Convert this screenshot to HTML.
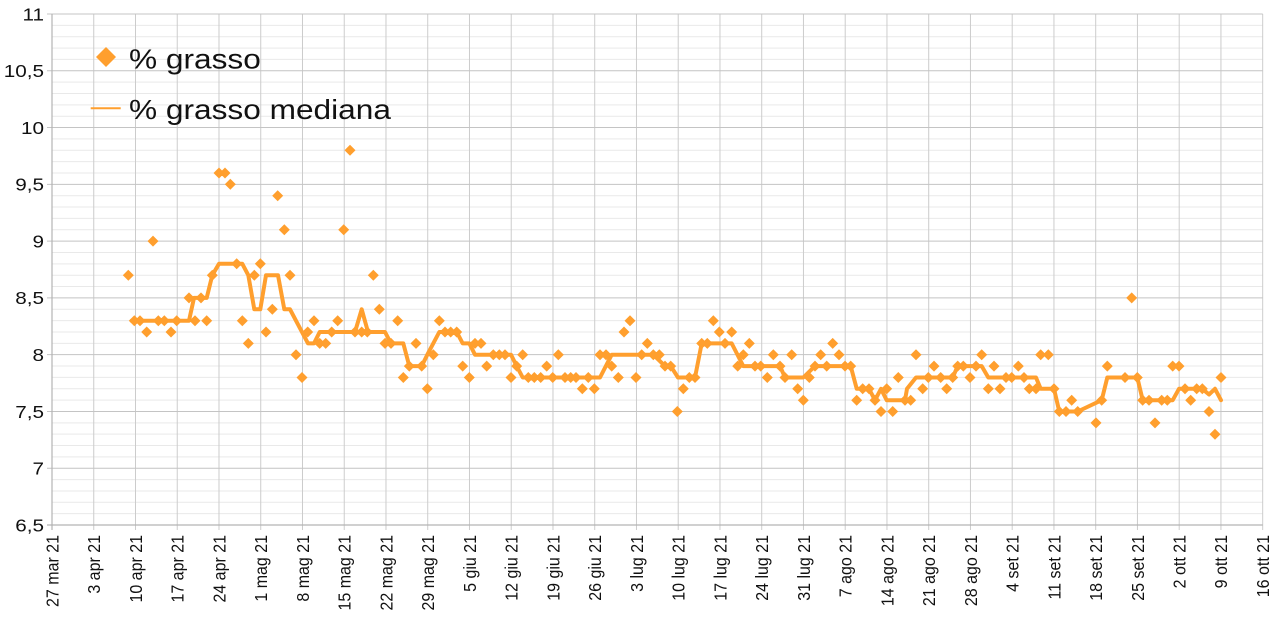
<!DOCTYPE html>
<html><head><meta charset="utf-8"><style>
html,body{margin:0;padding:0;background:#fff;}
svg{display:block;}
text{font-family:"Liberation Sans",Arial,sans-serif;fill:#111;}
</style></head><body>
<svg width="1279" height="622" viewBox="0 0 1279 622" xmlns="http://www.w3.org/2000/svg">
<rect width="1279" height="622" fill="#fff"/>
<!-- minor horizontal grid -->
<path fill="none" stroke="#e9e9e9" stroke-width="1" d="M52 25.36H1262.7M52 36.71H1262.7M52 48.07H1262.7M52 59.42H1262.7M52 82.14H1262.7M52 93.49H1262.7M52 104.85H1262.7M52 116.2H1262.7M52 138.92H1262.7M52 150.27H1262.7M52 161.63H1262.7M52 172.98H1262.7M52 195.7H1262.7M52 207.05H1262.7M52 218.41H1262.7M52 229.76H1262.7M52 252.48H1262.7M52 263.83H1262.7M52 275.19H1262.7M52 286.54H1262.7M52 309.26H1262.7M52 320.61H1262.7M52 331.97H1262.7M52 343.32H1262.7M52 366.04H1262.7M52 377.39H1262.7M52 388.75H1262.7M52 400.1H1262.7M52 422.82H1262.7M52 434.17H1262.7M52 445.53H1262.7M52 456.88H1262.7M52 479.6H1262.7M52 490.95H1262.7M52 502.31H1262.7M52 513.66H1262.7"/>
<!-- vertical grid -->
<path fill="none" stroke="#cccccc" stroke-width="1" d="M93.75 14V530M135.5 14V530M177.24 14V530M218.99 14V530M260.74 14V530M302.49 14V530M344.24 14V530M385.98 14V530M427.73 14V530M469.48 14V530M511.23 14V530M552.98 14V530M594.72 14V530M636.47 14V530M678.22 14V530M719.97 14V530M761.72 14V530M803.46 14V530M845.21 14V530M886.96 14V530M928.71 14V530M970.46 14V530M1012.2 14V530M1053.95 14V530M1095.7 14V530M1137.45 14V530M1179.2 14V530M1220.94 14V530M1262.69 14V530"/>
<!-- major horizontal grid -->
<path fill="none" stroke="#c4c4c4" stroke-width="1" d="M47 14H1262.7M47 70.78H1262.7M47 127.56H1262.7M47 184.34H1262.7M47 241.12H1262.7M47 297.9H1262.7M47 354.68H1262.7M47 411.46H1262.7M47 468.24H1262.7"/>
<!-- axes -->
<path fill="none" stroke="#b3b3b3" stroke-width="1.2" d="M52 14V530M47 525H1262.7"/>

<!-- y labels -->
<g font-size="18" text-anchor="end">
<text transform="translate(44,20.3) scale(1.15,1)">11</text>
<text transform="translate(44,77.1) scale(1.15,1)">10,5</text>
<text transform="translate(44,133.9) scale(1.15,1)">10</text>
<text transform="translate(44,190.6) scale(1.15,1)">9,5</text>
<text transform="translate(44,247.4) scale(1.15,1)">9</text>
<text transform="translate(44,304.2) scale(1.15,1)">8,5</text>
<text transform="translate(44,361) scale(1.15,1)">8</text>
<text transform="translate(44,417.8) scale(1.15,1)">7,5</text>
<text transform="translate(44,474.5) scale(1.15,1)">7</text>
<text transform="translate(44,531.3) scale(1.15,1)">6,5</text>
</g>

<!-- x labels -->
<g font-size="16" text-anchor="end">
<text transform="translate(58.3,535) scale(1.1,1) rotate(-90)">27 mar 21</text>
<text transform="translate(100.05,535) scale(1.1,1) rotate(-90)">3 apr 21</text>
<text transform="translate(141.8,535) scale(1.1,1) rotate(-90)">10 apr 21</text>
<text transform="translate(183.54,535) scale(1.1,1) rotate(-90)">17 apr 21</text>
<text transform="translate(225.29,535) scale(1.1,1) rotate(-90)">24 apr 21</text>
<text transform="translate(267.04,535) scale(1.1,1) rotate(-90)">1 mag 21</text>
<text transform="translate(308.79,535) scale(1.1,1) rotate(-90)">8 mag 21</text>
<text transform="translate(350.54,535) scale(1.1,1) rotate(-90)">15 mag 21</text>
<text transform="translate(392.28,535) scale(1.1,1) rotate(-90)">22 mag 21</text>
<text transform="translate(434.03,535) scale(1.1,1) rotate(-90)">29 mag 21</text>
<text transform="translate(475.78,535) scale(1.1,1) rotate(-90)">5 giu 21</text>
<text transform="translate(517.53,535) scale(1.1,1) rotate(-90)">12 giu 21</text>
<text transform="translate(559.28,535) scale(1.1,1) rotate(-90)">19 giu 21</text>
<text transform="translate(601.02,535) scale(1.1,1) rotate(-90)">26 giu 21</text>
<text transform="translate(642.77,535) scale(1.1,1) rotate(-90)">3 lug 21</text>
<text transform="translate(684.52,535) scale(1.1,1) rotate(-90)">10 lug 21</text>
<text transform="translate(726.27,535) scale(1.1,1) rotate(-90)">17 lug 21</text>
<text transform="translate(768.02,535) scale(1.1,1) rotate(-90)">24 lug 21</text>
<text transform="translate(809.76,535) scale(1.1,1) rotate(-90)">31 lug 21</text>
<text transform="translate(851.51,535) scale(1.1,1) rotate(-90)">7 ago 21</text>
<text transform="translate(893.26,535) scale(1.1,1) rotate(-90)">14 ago 21</text>
<text transform="translate(935.01,535) scale(1.1,1) rotate(-90)">21 ago 21</text>
<text transform="translate(976.76,535) scale(1.1,1) rotate(-90)">28 ago 21</text>
<text transform="translate(1018.5,535) scale(1.1,1) rotate(-90)">4 set 21</text>
<text transform="translate(1060.25,535) scale(1.1,1) rotate(-90)">11 set 21</text>
<text transform="translate(1102,535) scale(1.1,1) rotate(-90)">18 set 21</text>
<text transform="translate(1143.75,535) scale(1.1,1) rotate(-90)">25 set 21</text>
<text transform="translate(1185.5,535) scale(1.1,1) rotate(-90)">2 ott 21</text>
<text transform="translate(1227.24,535) scale(1.1,1) rotate(-90)">9 ott 21</text>
<text transform="translate(1268.99,535) scale(1.1,1) rotate(-90)">16 ott 21</text>
</g>

<!-- scatter points -->
<path fill="#ff9f2e" transform="translate(-0.5,0)" d="M123.3,275.2l5.5-5.5 5.5,5.5-5.5,5.5zM129.3,320.7l5.5-5.5 5.5,5.5-5.5,5.5zM135,320.7l5.5-5.5 5.5,5.5-5.5,5.5zM141.7,332l5.5-5.5 5.5,5.5-5.5,5.5zM148,241.1l5.5-5.5 5.5,5.5-5.5,5.5zM153.3,320.7l5.5-5.5 5.5,5.5-5.5,5.5zM159.3,320.7l5.5-5.5 5.5,5.5-5.5,5.5zM166,332l5.5-5.5 5.5,5.5-5.5,5.5zM171.7,320.7l5.5-5.5 5.5,5.5-5.5,5.5zM184,297.9l5.5-5.5 5.5,5.5-5.5,5.5zM190,320.7l5.5-5.5 5.5,5.5-5.5,5.5zM196,297.9l5.5-5.5 5.5,5.5-5.5,5.5zM201.7,320.7l5.5-5.5 5.5,5.5-5.5,5.5zM207.3,275.2l5.5-5.5 5.5,5.5-5.5,5.5zM214,173l5.5-5.5 5.5,5.5-5.5,5.5zM220,173l5.5-5.5 5.5,5.5-5.5,5.5zM225.3,184.3l5.5-5.5 5.5,5.5-5.5,5.5zM231.7,263.8l5.5-5.5 5.5,5.5-5.5,5.5zM237.3,320.7l5.5-5.5 5.5,5.5-5.5,5.5zM243.3,343.4l5.5-5.5 5.5,5.5-5.5,5.5zM249.3,275.2l5.5-5.5 5.5,5.5-5.5,5.5zM255.3,263.8l5.5-5.5 5.5,5.5-5.5,5.5zM261,332l5.5-5.5 5.5,5.5-5.5,5.5zM267.3,309.3l5.5-5.5 5.5,5.5-5.5,5.5zM272.7,195.7l5.5-5.5 5.5,5.5-5.5,5.5zM279.3,229.8l5.5-5.5 5.5,5.5-5.5,5.5zM285,275.2l5.5-5.5 5.5,5.5-5.5,5.5zM291,354.7l5.5-5.5 5.5,5.5-5.5,5.5zM297,377.5l5.5-5.5 5.5,5.5-5.5,5.5zM302.7,332l5.5-5.5 5.5,5.5-5.5,5.5zM309,320.7l5.5-5.5 5.5,5.5-5.5,5.5zM314.7,343.4l5.5-5.5 5.5,5.5-5.5,5.5zM320.7,343.4l5.5-5.5 5.5,5.5-5.5,5.5zM326.7,332l5.5-5.5 5.5,5.5-5.5,5.5zM332.7,320.7l5.5-5.5 5.5,5.5-5.5,5.5zM338.7,229.8l5.5-5.5 5.5,5.5-5.5,5.5zM345,150.3l5.5-5.5 5.5,5.5-5.5,5.5zM350,332l5.5-5.5 5.5,5.5-5.5,5.5zM356.7,332l5.5-5.5 5.5,5.5-5.5,5.5zM362.3,332l5.5-5.5 5.5,5.5-5.5,5.5zM368.3,275.2l5.5-5.5 5.5,5.5-5.5,5.5zM374.3,309.3l5.5-5.5 5.5,5.5-5.5,5.5zM380,343.4l5.5-5.5 5.5,5.5-5.5,5.5zM386,343.4l5.5-5.5 5.5,5.5-5.5,5.5zM392.7,320.7l5.5-5.5 5.5,5.5-5.5,5.5zM398.3,377.5l5.5-5.5 5.5,5.5-5.5,5.5zM404.3,366.1l5.5-5.5 5.5,5.5-5.5,5.5zM411,343.4l5.5-5.5 5.5,5.5-5.5,5.5zM416.7,366.1l5.5-5.5 5.5,5.5-5.5,5.5zM422.3,388.8l5.5-5.5 5.5,5.5-5.5,5.5zM428.3,354.7l5.5-5.5 5.5,5.5-5.5,5.5zM434.3,320.7l5.5-5.5 5.5,5.5-5.5,5.5zM440,332l5.5-5.5 5.5,5.5-5.5,5.5zM445.7,332l5.5-5.5 5.5,5.5-5.5,5.5zM451.7,332l5.5-5.5 5.5,5.5-5.5,5.5zM457.7,366.1l5.5-5.5 5.5,5.5-5.5,5.5zM464.3,377.5l5.5-5.5 5.5,5.5-5.5,5.5zM470,343.4l5.5-5.5 5.5,5.5-5.5,5.5zM476,343.4l5.5-5.5 5.5,5.5-5.5,5.5zM481.7,366.1l5.5-5.5 5.5,5.5-5.5,5.5zM488.3,354.7l5.5-5.5 5.5,5.5-5.5,5.5zM494.3,354.7l5.5-5.5 5.5,5.5-5.5,5.5zM500,354.7l5.5-5.5 5.5,5.5-5.5,5.5zM506,377.5l5.5-5.5 5.5,5.5-5.5,5.5zM511.7,366.1l5.5-5.5 5.5,5.5-5.5,5.5zM517.7,354.7l5.5-5.5 5.5,5.5-5.5,5.5zM523.3,377.5l5.5-5.5 5.5,5.5-5.5,5.5zM529.3,377.5l5.5-5.5 5.5,5.5-5.5,5.5zM535.7,377.5l5.5-5.5 5.5,5.5-5.5,5.5zM541.7,366.1l5.5-5.5 5.5,5.5-5.5,5.5zM547.7,377.5l5.5-5.5 5.5,5.5-5.5,5.5zM553.3,354.7l5.5-5.5 5.5,5.5-5.5,5.5zM560,377.5l5.5-5.5 5.5,5.5-5.5,5.5zM565.7,377.5l5.5-5.5 5.5,5.5-5.5,5.5zM571,377.5l5.5-5.5 5.5,5.5-5.5,5.5zM577.3,388.8l5.5-5.5 5.5,5.5-5.5,5.5zM583.3,377.5l5.5-5.5 5.5,5.5-5.5,5.5zM589.3,388.8l5.5-5.5 5.5,5.5-5.5,5.5zM595,354.7l5.5-5.5 5.5,5.5-5.5,5.5zM601,354.7l5.5-5.5 5.5,5.5-5.5,5.5zM606.7,366.1l5.5-5.5 5.5,5.5-5.5,5.5zM613.3,377.5l5.5-5.5 5.5,5.5-5.5,5.5zM619,332l5.5-5.5 5.5,5.5-5.5,5.5zM625,320.7l5.5-5.5 5.5,5.5-5.5,5.5zM631,377.5l5.5-5.5 5.5,5.5-5.5,5.5zM636.7,354.7l5.5-5.5 5.5,5.5-5.5,5.5zM642.3,343.4l5.5-5.5 5.5,5.5-5.5,5.5zM648.3,354.7l5.5-5.5 5.5,5.5-5.5,5.5zM654.3,354.7l5.5-5.5 5.5,5.5-5.5,5.5zM660,366.1l5.5-5.5 5.5,5.5-5.5,5.5zM665.7,366.1l5.5-5.5 5.5,5.5-5.5,5.5zM672.3,411.5l5.5-5.5 5.5,5.5-5.5,5.5zM678.3,388.8l5.5-5.5 5.5,5.5-5.5,5.5zM684.3,377.5l5.5-5.5 5.5,5.5-5.5,5.5zM690,377.5l5.5-5.5 5.5,5.5-5.5,5.5zM696.7,343.4l5.5-5.5 5.5,5.5-5.5,5.5zM702.3,343.4l5.5-5.5 5.5,5.5-5.5,5.5zM708.3,320.7l5.5-5.5 5.5,5.5-5.5,5.5zM714.3,332l5.5-5.5 5.5,5.5-5.5,5.5zM720,343.4l5.5-5.5 5.5,5.5-5.5,5.5zM726.7,332l5.5-5.5 5.5,5.5-5.5,5.5zM732.7,366.1l5.5-5.5 5.5,5.5-5.5,5.5zM738.3,354.7l5.5-5.5 5.5,5.5-5.5,5.5zM744.3,343.4l5.5-5.5 5.5,5.5-5.5,5.5zM750,366.1l5.5-5.5 5.5,5.5-5.5,5.5zM755.7,366.1l5.5-5.5 5.5,5.5-5.5,5.5zM762.3,377.5l5.5-5.5 5.5,5.5-5.5,5.5zM768.3,354.7l5.5-5.5 5.5,5.5-5.5,5.5zM775,366.1l5.5-5.5 5.5,5.5-5.5,5.5zM780,377.5l5.5-5.5 5.5,5.5-5.5,5.5zM786.7,354.7l5.5-5.5 5.5,5.5-5.5,5.5zM792.7,388.8l5.5-5.5 5.5,5.5-5.5,5.5zM798.3,400.2l5.5-5.5 5.5,5.5-5.5,5.5zM804.3,377.5l5.5-5.5 5.5,5.5-5.5,5.5zM810,366.1l5.5-5.5 5.5,5.5-5.5,5.5zM815.7,354.7l5.5-5.5 5.5,5.5-5.5,5.5zM821.7,366.1l5.5-5.5 5.5,5.5-5.5,5.5zM827.7,343.4l5.5-5.5 5.5,5.5-5.5,5.5zM834,354.7l5.5-5.5 5.5,5.5-5.5,5.5zM840,366.1l5.5-5.5 5.5,5.5-5.5,5.5zM845.7,366.1l5.5-5.5 5.5,5.5-5.5,5.5zM851.7,400.2l5.5-5.5 5.5,5.5-5.5,5.5zM857.7,388.8l5.5-5.5 5.5,5.5-5.5,5.5zM864,388.8l5.5-5.5 5.5,5.5-5.5,5.5zM870,400.2l5.5-5.5 5.5,5.5-5.5,5.5zM876,411.5l5.5-5.5 5.5,5.5-5.5,5.5zM881.7,388.8l5.5-5.5 5.5,5.5-5.5,5.5zM887.7,411.5l5.5-5.5 5.5,5.5-5.5,5.5zM893.3,377.5l5.5-5.5 5.5,5.5-5.5,5.5zM900,400.2l5.5-5.5 5.5,5.5-5.5,5.5zM905.7,400.2l5.5-5.5 5.5,5.5-5.5,5.5zM911,354.7l5.5-5.5 5.5,5.5-5.5,5.5zM917.7,388.8l5.5-5.5 5.5,5.5-5.5,5.5zM923.3,377.5l5.5-5.5 5.5,5.5-5.5,5.5zM929,366.1l5.5-5.5 5.5,5.5-5.5,5.5zM935.7,377.5l5.5-5.5 5.5,5.5-5.5,5.5zM941.7,388.8l5.5-5.5 5.5,5.5-5.5,5.5zM947.7,377.5l5.5-5.5 5.5,5.5-5.5,5.5zM952.7,366.1l5.5-5.5 5.5,5.5-5.5,5.5zM958.3,366.1l5.5-5.5 5.5,5.5-5.5,5.5zM965,377.5l5.5-5.5 5.5,5.5-5.5,5.5zM971,366.1l5.5-5.5 5.5,5.5-5.5,5.5zM976.7,354.7l5.5-5.5 5.5,5.5-5.5,5.5zM983.3,388.8l5.5-5.5 5.5,5.5-5.5,5.5zM989,366.1l5.5-5.5 5.5,5.5-5.5,5.5zM995,388.8l5.5-5.5 5.5,5.5-5.5,5.5zM1001,377.5l5.5-5.5 5.5,5.5-5.5,5.5zM1006.7,377.5l5.5-5.5 5.5,5.5-5.5,5.5zM1013.3,366.1l5.5-5.5 5.5,5.5-5.5,5.5zM1019,377.5l5.5-5.5 5.5,5.5-5.5,5.5zM1024.3,388.8l5.5-5.5 5.5,5.5-5.5,5.5zM1031,388.8l5.5-5.5 5.5,5.5-5.5,5.5zM1035.7,354.7l5.5-5.5 5.5,5.5-5.5,5.5zM1043.3,354.7l5.5-5.5 5.5,5.5-5.5,5.5zM1049,388.8l5.5-5.5 5.5,5.5-5.5,5.5zM1054.3,411.5l5.5-5.5 5.5,5.5-5.5,5.5zM1061,411.5l5.5-5.5 5.5,5.5-5.5,5.5zM1066.7,400.2l5.5-5.5 5.5,5.5-5.5,5.5zM1072.7,411.5l5.5-5.5 5.5,5.5-5.5,5.5zM1091,422.9l5.5-5.5 5.5,5.5-5.5,5.5zM1096.7,400.2l5.5-5.5 5.5,5.5-5.5,5.5zM1102.3,366.1l5.5-5.5 5.5,5.5-5.5,5.5zM1120,377.5l5.5-5.5 5.5,5.5-5.5,5.5zM1126.7,297.9l5.5-5.5 5.5,5.5-5.5,5.5zM1132.3,377.5l5.5-5.5 5.5,5.5-5.5,5.5zM1137.7,400.2l5.5-5.5 5.5,5.5-5.5,5.5zM1144,400.2l5.5-5.5 5.5,5.5-5.5,5.5zM1150,422.9l5.5-5.5 5.5,5.5-5.5,5.5zM1156.7,400.2l5.5-5.5 5.5,5.5-5.5,5.5zM1162.3,400.2l5.5-5.5 5.5,5.5-5.5,5.5zM1167.7,366.1l5.5-5.5 5.5,5.5-5.5,5.5zM1174,366.1l5.5-5.5 5.5,5.5-5.5,5.5zM1180,388.8l5.5-5.5 5.5,5.5-5.5,5.5zM1185.7,400.2l5.5-5.5 5.5,5.5-5.5,5.5zM1191.7,388.8l5.5-5.5 5.5,5.5-5.5,5.5zM1197.3,388.8l5.5-5.5 5.5,5.5-5.5,5.5zM1204,411.5l5.5-5.5 5.5,5.5-5.5,5.5zM1210,434.3l5.5-5.5 5.5,5.5-5.5,5.5zM1216,377.5l5.5-5.5 5.5,5.5-5.5,5.5z"/>

<!-- median line -->
<polyline fill="none" stroke="#ff9f2e" stroke-width="4" stroke-linejoin="round" stroke-linecap="round" points="131.7,320.7 189,320.7 194,297.9 206.7,297.9 212.3,275.2 219,263.8 242.3,263.8 248.3,275.2 254.3,309.3 260.3,309.3 266,275.2 278,275.2 284.3,309.3 290,309.3 308,343.4 314,343.4 319.7,332 355,332 361.7,309.3 368,332 385,332 391,343.4 403.3,343.4 409.3,366.1 421.7,366.1 427.3,354.7 439.3,332 456.7,332 462.7,343.4 469.3,343.4 475,354.7 511,354.7 516.7,366.1 522.7,377.5 600,377.5 611.7,354.7 653.3,354.7 665,366.1 670.7,366.1 678,377.5 695,377.5 701.7,343.4 731.7,343.4 743.3,366.1 780,366.1 785,377.5 803.3,377.5 815,366.1 850.7,366.1 856.7,388.8 869,388.8 875,400.2 881,388.8 886.7,400.2 905,400.2 907,388.8 916,377.5 952.7,377.5 957.7,366.1 981.7,366.1 988.3,377.5 1036,377.5 1040.7,388.8 1054,388.8 1059.3,411.5 1077.7,411.5 1101.7,400.2 1107.3,377.5 1137.3,377.5 1142.7,400.2 1172.7,400.2 1179,388.8 1202.3,388.8 1209,394.5 1215,388.8 1221,400.2"/>

<!-- legend -->
<path fill="#ff9f2e" d="M96,57l10-10 10,10-10,10z"/>
<text font-size="28" transform="translate(129,68.3) scale(1.13,1)">% grasso</text>
<line x1="90.7" y1="108.3" x2="120.7" y2="108.3" stroke="#ff9f2e" stroke-width="2"/>
<text font-size="28" transform="translate(129,119) scale(1.13,1)">% grasso mediana</text>
</svg>
</body></html>
